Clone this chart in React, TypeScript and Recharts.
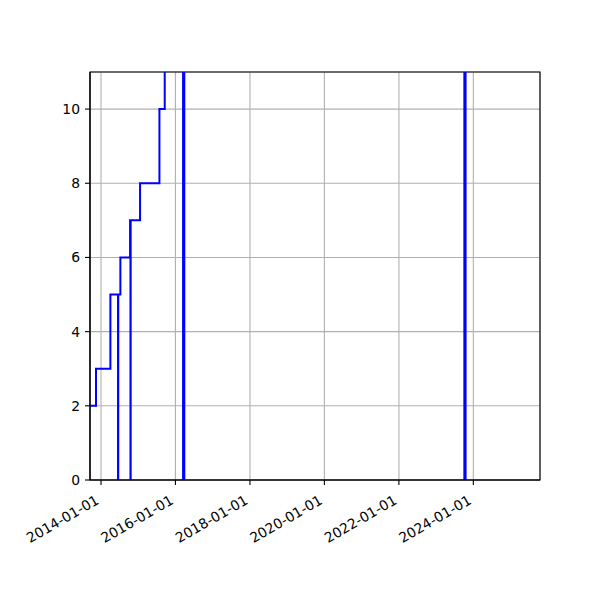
import { LineChart, Line, XAxis, YAxis, CartesianGrid, ReferenceArea } from 'recharts';

// step series: dates (ISO) and values; values above 11 run off the top of the plot
const dates = [
  '2013-08-01', '2013-11-13', '2014-04-03', '2014-06-17', '2014-06-19', '2014-07-10',
  '2014-10-13', '2014-10-17', '2014-10-19', '2015-01-19', '2015-07-28', '2015-09-18',
  '2016-03-16', '2016-03-28', '2023-10-05', '2023-10-17', '2025-06-01',
];
const values = [2, 3, 5, 0, 5, 6, 7, 0, 7, 8, 10, 20, 0, 20, 0, 20, 20];

const xTickLabels = ['2014-01-01', '2016-01-01', '2018-01-01', '2020-01-01', '2022-01-01', '2024-01-01'];
const yTicks = [0, 2, 4, 6, 8, 10];
const xDomain = ['2013-09-15', '2025-10-16'];
const yDomain = [0, 11];

const data = dates.map((d, i) => ({ t: Date.parse(d), v: values[i] }));
const xTicks = xTickLabels.map(s => Date.parse(s));
const xDom = xDomain.map(s => Date.parse(s));
const FONT = 'DejaVu Sans, sans-serif';

function DateTick({ x, y, payload }: any) {
  const label = new Date(payload.value).toISOString().slice(0, 10);
  return (
    <g transform={`translate(${x - 1},${y + 16})`}>
      <text transform="rotate(-30)" textAnchor="end" fontSize={13.9} fontFamily={FONT} fill="#000">
        {label}
      </text>
    </g>
  );
}

export default function App() {
  return (
    <div style={{ position: 'absolute', left: 0, top: 0, width: 600, height: 600, background: '#fff' }}>
      <LineChart width={600} height={600} data={data} margin={{ top: 72, right: 60, bottom: 60, left: 30 }}>
        <CartesianGrid stroke="#b0b0b0" strokeWidth={1.1} />
        <XAxis
          dataKey="t" type="number" scale="time" domain={xDom}
          ticks={xTicks} tick={<DateTick />} height={60} interval={0}
          axisLine={{ stroke: '#000', strokeWidth: 1.1 }} tickLine={{ stroke: '#000', strokeWidth: 1.1 }}
          tickSize={5} allowDataOverflow
        />
        <YAxis
          type="number" domain={yDomain} ticks={yTicks} width={60} allowDataOverflow interval={0}
          tick={{ fontSize: 13.9, fontFamily: FONT, fill: '#000' }}
          axisLine={{ stroke: '#000', strokeWidth: 1.1 }} tickLine={{ stroke: '#000', strokeWidth: 1.1 }}
          tickSize={5} tickMargin={5}
        />
        <Line
          type="stepAfter" dataKey="v" stroke="#0000ff" strokeWidth={2}
          dot={false} activeDot={false} isAnimationActive={false}
        />
        <ReferenceArea x1={xDom[0]} x2={xDom[1]} y1={yDomain[0]} y2={yDomain[1]}
          fill="none" fillOpacity={0} stroke="#000" strokeWidth={1.1} ifOverflow="visible" />
      </LineChart>
    </div>
  );
}
